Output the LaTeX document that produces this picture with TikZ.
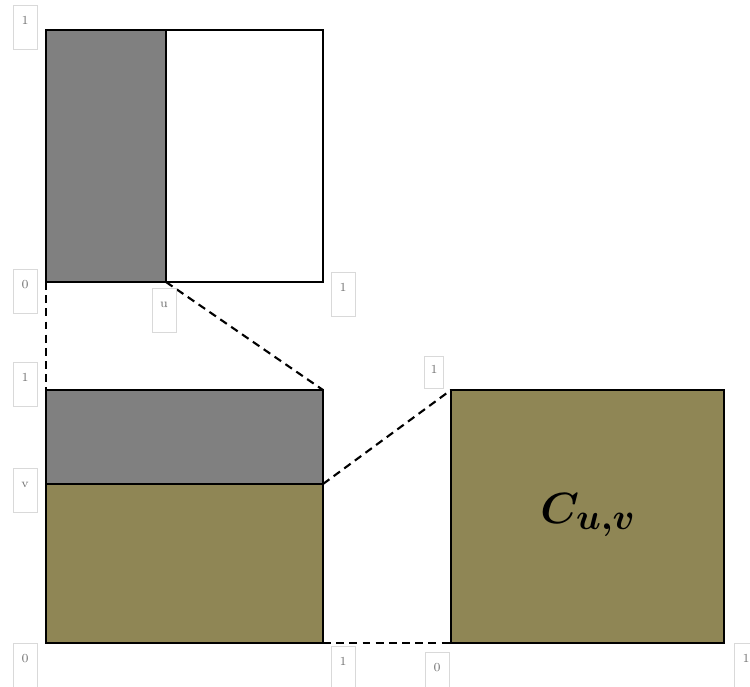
\documentclass[tikz,border=0pt]{standalone}
\usepackage{bm}
\DeclareMathSizes{34}{34}{22}{16}
\definecolor{copulaolive}{RGB}{143,134,85}
\tikzset{
  labelbox/.style={draw=black!15, fill=white, text=black!55, font=\fontsize{7}{8}\selectfont,
    minimum width=0.48cm, text height=9pt, text depth=12pt, inner sep=2pt, anchor=north},
  edge/.style={line width=1.2pt},
  link/.style={line width=1.2pt, dash pattern=on 4.5pt off 3pt}
}
\begin{document}
\begin{tikzpicture}[x=0.02cm, y=-0.02cm]
      \useasboundingbox (0, 0) rectangle (750, 686);
      % top square: u
      \draw [edge, fill=gray] (46, 30) rectangle (166, 282);
      \draw [edge] (166, 30) rectangle (323, 282);
      % lower left square: v
      \draw [edge, fill=gray] (46, 390) rectangle (323, 484);
      \draw [edge, fill=copulaolive] (46, 484) rectangle (323, 643);
      % right square: C
      \draw [edge, fill=copulaolive] (451, 390) rectangle (724, 643);
      \node (cuv) at (588, 515) {\fontsize{34}{40}\selectfont $\bm{C_{u,v}}$};
      % corners
      \coordinate (top-sw) at (46, 282);
      \coordinate (top-u) at (166, 282);
      \coordinate (mid-nw) at (46, 390);
      \coordinate (mid-ne) at (323, 390);
      \coordinate (mid-v) at (323, 484);
      \coordinate (mid-se) at (323, 643);
      \coordinate (right-nw) at (451, 390);
      \coordinate (right-sw) at (451, 643);
      \draw [link] (top-sw) -- (mid-nw);
      \draw [link] (top-u) -- (mid-ne);
      \draw [link] (mid-v) -- (right-nw);
      \draw [link] (mid-se) -- (right-sw);
      % axis labels
      \node [labelbox] (top-one) at (25, 5) {1};
      \node [labelbox] (top-zero) at (25, 269) {0};
      \node [labelbox] (top-ulabel) at (164, 288) {u};
      \node [labelbox] (top-right) at (343, 272) {1};
      \node [labelbox] (mid-one) at (25, 362) {1};
      \node [labelbox] (mid-vlabel) at (25, 468) {v};
      \node [labelbox] (mid-zero) at (25, 643) {0};
      \node [labelbox] (mid-right) at (343, 646) {1};
      \node [labelbox, minimum width=0.38cm, text height=8pt, text depth=6pt] (right-one) at (434, 356) {1};
      \node [labelbox] (right-zero) at (437, 652) {0};
      \node [labelbox] (right-right) at (746, 643) {1};
\end{tikzpicture}
\end{document}
